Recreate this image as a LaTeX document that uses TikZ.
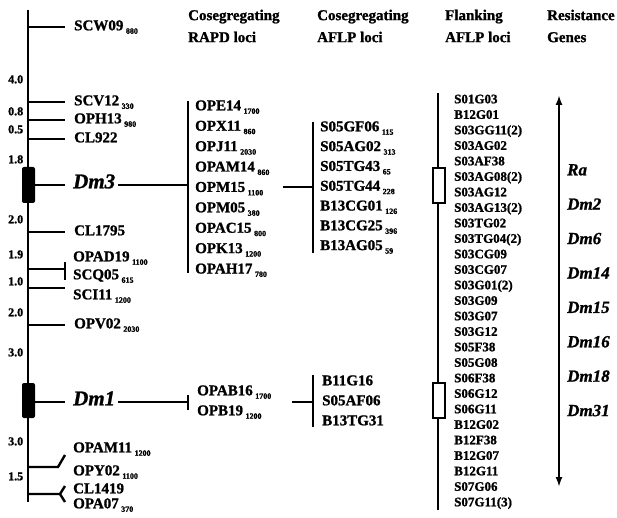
\documentclass[tikz,border=0pt]{standalone}
\usepackage{fontspec}
\setmainfont{Liberation Serif}[BoldFont={Liberation Serif Bold},
  ItalicFont={Liberation Serif Italic}, BoldItalicFont={Liberation Serif Bold Italic},
  BoldFeatures={FakeBold=1.2}, BoldItalicFeatures={FakeBold=1.2}]
\usetikzlibrary{arrows.meta,positioning}
\newcommand{\bp}[1]{\,\raisebox{-0.5ex}{\fontsize{8}{8}\selectfont\bfseries #1}}
\tikzset{
  lbl/.style={anchor=west, inner sep=0pt, text height=0.66em, text depth=0pt},
  mk/.style={lbl, font=\fontsize{15}{15}\selectfont\bfseries},
  fl/.style={lbl, font=\fontsize{13}{13}\selectfont\bfseries},
  dist/.style={lbl, font=\fontsize{12}{12}\selectfont\bfseries},
  gene/.style={lbl, font=\fontsize{17}{17}\selectfont\bfseries\itshape},
  dmlbl/.style={lbl, font=\fontsize{21}{21}\selectfont\bfseries\itshape},
  colhead/.style={anchor=west, inner sep=0pt, align=left,
    font=\fontsize{15}{22}\selectfont\bfseries},
  chrom/.style={line width=1.3pt},
  tickline/.style={line width=2.4pt},
  barline/.style={line width=2pt}
}
\begin{document}
\begin{tikzpicture}[x=1pt, y=-1pt]
  \useasboundingbox (0,0) rectangle (617,518);
  % column heads
  \node[colhead] (hrapd) at (188,26) {Cosegregating\\RAPD loci};
  \node[colhead] (haflp) at (317,26) {Cosegregating\\AFLP loci};
  \node[colhead] (hflank) at (445,26) {Flanking\\AFLP loci};
  \node[colhead] (hres) at (547,26) {Resistance\\Genes};
  % linkage group
  \draw[chrom] (28,10) -- (28,502);
  \fill[rounded corners=2pt] (22,167) rectangle (35,203);
  \fill[rounded corners=2pt] (22,383) rectangle (35,418);
  \foreach \y/\d in {80/4.0, 112/0.8, 130/0.5, 160/1.8, 220/2.0, 255/1.9,
                     282/1.0, 313/2.0, 353/3.0, 442/3.0, 477/1.5}
    \node[dist] (d\y) at (8,\y) {\d};
  \draw[tickline] (28,27) -- (65,27) node[mk, right=8pt] (scw) {SCW09\bp{880}};
  \draw[tickline] (28,102) -- (65,102) node[mk, right=8pt] (scv) {SCV12\bp{330}};
  \draw[tickline] (28,120) -- (65,120) node[mk, right=8pt] (oph) {OPH13\bp{980}};
  \draw[tickline] (28,139) -- (65,139) node[mk, right=8pt] (clnine) {CL922};
  \draw[tickline] (28,232) -- (65,232) node[mk, right=8pt] (clseven) {CL1795};
  \draw[tickline] (28,325) -- (65,325) node[mk, right=8pt] (opv) {OPV02\bp{2030}};
  \draw[tickline] (28,288) -- (65,288);
  \node[mk] (sci) at (73,296) {SCI11\bp{1200}};
  \node[mk] (opad) at (73,258) {OPAD19\bp{1100}};
  \node[mk] (scq) at (73,276) {SCQ05\bp{615}};
  \draw[tickline] (28,269) -- (65,269);
  \draw[barline] (65,262) -- (65,280);
  \node[mk] (opam) at (73,449) {OPAM11\bp{1200}};
  \node[mk] (opy) at (73,472) {OPY02\bp{1100}};
  \node[mk] (cl14) at (73,490) {CL1419};
  \node[mk] (opa) at (73,505) {OPA07\bp{370}};
  \draw[tickline] (28,467) -- (58,467) -- (65,455);
  \draw[tickline] (28,494) -- (60,494) -- (65,486);
  \draw[tickline] (60,494) -- (65,502);
  % Dm3 cluster
  \node[dmlbl] (dmthree) at (73,185) {Dm3};
  \draw[tickline] (35,185) -- (65,185);
  \coordinate (rapdtop) at (188,101);
  \coordinate (rapdbot) at (188,273);
  \draw[barline] (rapdtop) -- (rapdbot);
  \draw[tickline] ([xshift=3pt]dmthree.east) -- (188,185);
  \foreach \m/\s [count=\i from 0] in {OPE14/1700, OPX11/860, OPJ11/2030,
      OPAM14/860, OPM15/1100, OPM05/380, OPAC15/800, OPK13/1200, OPAH17/780}
    \node[mk] (rapd\i) at (195,{107+20.4*\i}) {\m\bp{\s}};
  \coordinate (afltop) at (313,122);
  \coordinate (aflbot) at (313,253);
  \coordinate (rapdout) at (283,187);
  \draw[barline] (afltop) -- (aflbot);
  \draw[tickline] (rapdout) -- (313,187);
  \foreach \m/\s [count=\i from 0] in {S05GF06/115, S05AG02/313, S05TG43/65,
      S05TG44/228, B13CG01/126, B13CG25/396, B13AG05/59}
    \node[mk] (afl\i) at (320,{128+19.8*\i}) {\m\bp{\s}};
  % Dm1 cluster
  \node[dmlbl] (dmone) at (73,402) {Dm1};
  \draw[tickline] (35,402) -- (65,402);
  \draw[tickline] ([xshift=3pt]dmone.east) -- (188,402);
  \draw[barline] (188,395) -- (188,410);
  \node[mk] (opab) at (197,392) {OPAB16\bp{1700}};
  \node[mk] (opb) at (197,412) {OPB19\bp{1200}};
  \draw[tickline] (292,402) -- (313,402);
  \draw[barline] (313,375) -- (313,427);
  \node[mk] (bone) at (322,382) {B11G16};
  \node[mk] (sfive) at (322,402) {S05AF06};
  \node[mk] (bthree) at (322,422) {B13TG31};
  % flanking loci
  \draw[barline] (438,93) -- (438,510);
  \draw[barline, fill=white] (433,168) rectangle (445,203);
  \draw[barline, fill=white] (433,383) rectangle (445,418);
  \foreach \m [count=\i from 0] in {S01G03, B12G01, S03GG11(2), S03AG02, S03AF38,
      S03AG08(2), S03AG12, S03AG13(2), S03TG02, S03TG04(2), S03CG09, S03CG07,
      S03G01(2), S03G09, S03G07, S03G12, S05F38, S05G08, S06F38, S06G12, S06G11,
      B12G02, B12F38, B12G07, B12G11, S07G06, S07G11(3)}
    \node[fl] (fl\i) at (454,{100+15.5*\i}) {\m};
  % resistance genes
  \coordinate (restop) at (559,95);
  \coordinate (resbot) at (559,487);
  \draw[barline, {Latex[length=10pt,width=7pt]}-{Latex[length=10pt,width=7pt]}]
    (restop) -- (resbot);
  \foreach \g [count=\i from 0] in {Ra, Dm2, Dm6, Dm14, Dm15, Dm16, Dm18, Dm31}
    \node[gene] (gene\i) at (567,{172+34.4*\i}) {\g};
\end{tikzpicture}
\end{document}
